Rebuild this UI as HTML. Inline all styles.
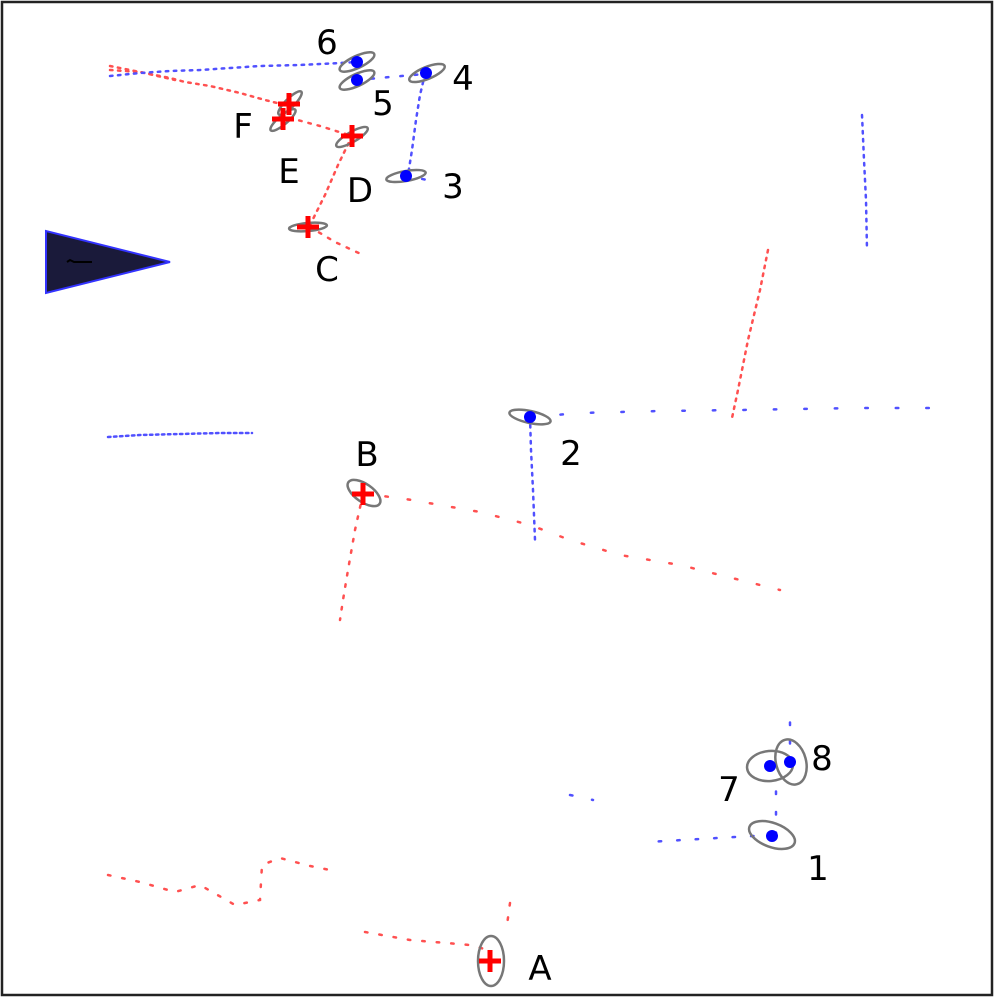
<!DOCTYPE html>
<html><head><meta charset="utf-8"><style>
html,body{margin:0;padding:0;background:#fff;width:995px;height:1000px;overflow:hidden}
svg{display:block}
text{font-family:"DejaVu Sans","Liberation Sans",sans-serif;font-size:34px;fill:#000;text-anchor:middle;dominant-baseline:central}
.r{fill:none;stroke:#ff5050;stroke-width:2.5;stroke-dasharray:2.5 12;stroke-linecap:round}
.b{fill:none;stroke:#5050ff;stroke-width:2.5;stroke-dasharray:2.5 12;stroke-linecap:round}
.bd{fill:none;stroke:#5050ff;stroke-width:2.5;stroke-dasharray:2.5 5.5;stroke-linecap:round}
.rd{fill:none;stroke:#ff5050;stroke-width:2.5;stroke-dasharray:2.5 5.5;stroke-linecap:round}
.e{fill:none;stroke:#777;stroke-width:2.5}
.dot{fill:#0000ff}
.cr{stroke:#ff0000;stroke-width:5}
</style></head><body>
<svg width="995" height="1000" viewBox="0 0 995 1000">
<rect x="2" y="2" width="990" height="993" fill="#fff" stroke="#222" stroke-width="2.5"/>
<polygon points="46,231 46,293 170,262" fill="#1a1a3a" stroke="#3333ff" stroke-width="2"/>
<path d="M67,262 l3,-2 l4,2 h18" stroke="#000" stroke-width="2" fill="none"/>

<polyline class="rd" points="110,66 130,70 150,74 170,78 185,82 210,86 240,93 265,100 285,105"/>
<polyline class="rd" points="110,70 140,72 175,80"/>
<polyline class="r" points="290,118 320,126 352,136" style="stroke-dasharray:2.5 7"/>
<polyline class="rd" points="352,136 338,165 325,195 310,225"/>
<polyline class="r" points="310,227 335,242 363,255" style="stroke-dasharray:2.5 8"/>
<polyline class="rd" points="768,250 760,290 748,340 738,390 732,418"/>
<polyline class="r" points="363,494 400,498 440,505 480,512 530,525 570,540 620,555 680,565 720,575 780,590" style="stroke-dasharray:2.5 20"/>
<polyline class="r" points="363,494 355,530 348,570 343,600 340,620" style="stroke-dasharray:2.5 9"/>
<polyline class="r" points="108,875 140,882 175,892 200,885 235,905 260,900 262,865 280,858 310,866 330,870"/>
<polyline class="r" points="365,932 410,940 470,945 488,950"/>
<polyline class="r" points="510,903 507,925"/>

<polyline class="bd" points="110,76 140,73 170,71 200,70 230,68 260,66 300,65 340,63 357,62"/>
<polyline class="b" points="357,80 390,77 425,74"/>
<polyline class="bd" points="425,74 420,95 416,120 412,150 408,175"/>
<polyline class="b" points="408,176 432,181"/>
<polyline class="bd" points="862,115 864,160 866,200 867,250"/>
<polyline class="b" points="530,417 580,413 660,411 740,410 800,409 860,408 935,408" style="stroke-dasharray:2.5 28"/>
<polyline class="bd" points="530,417 531,450 533,490 535,540"/>
<polyline class="bd" points="108,437 140,435 180,434 220,433 252,433" style="stroke-dasharray:2.5 3.5"/>
<polyline class="b" points="570,795 593,800" style="stroke-dasharray:2.5 20"/>
<polyline class="b" points="772,835 735,837 700,839 648,842" style="stroke-dasharray:2.5 16"/>
<polyline class="b" points="776,835 776,790 778,778" style="stroke-dasharray:2.5 18"/>
<polyline class="b" points="790,762 790,720" style="stroke-dasharray:2.5 16"/>

<ellipse class="e" cx="357" cy="62" rx="19" ry="6" transform="rotate(-25 357 62)"/>
<ellipse class="e" cx="357" cy="80" rx="19" ry="6" transform="rotate(-25 357 80)"/>
<ellipse class="e" cx="427" cy="73" rx="19" ry="6" transform="rotate(-22 427 73)"/>
<ellipse class="e" cx="406" cy="176" rx="20" ry="5" transform="rotate(-10 406 176)"/>
<ellipse class="e" cx="290" cy="103" rx="16" ry="4.5" transform="rotate(-45 290 103)"/>
<ellipse class="e" cx="283" cy="120" rx="16" ry="4.5" transform="rotate(-40 283 120)"/>
<ellipse class="e" cx="352" cy="137" rx="18" ry="5" transform="rotate(-30 352 137)"/>
<ellipse class="e" cx="308" cy="227" rx="19" ry="4" transform="rotate(-5 308 227)"/>
<ellipse class="e" cx="530" cy="417" rx="21" ry="6" transform="rotate(12 530 417)"/>
<ellipse class="e" cx="364" cy="493" rx="19" ry="9" transform="rotate(35 364 493)"/>
<ellipse class="e" cx="772" cy="835" rx="24" ry="12" transform="rotate(20 772 835)"/>
<ellipse class="e" cx="770" cy="766" rx="23" ry="15" transform="rotate(-5 770 766)"/>
<ellipse class="e" cx="791" cy="762" rx="15" ry="23" transform="rotate(-15 791 762)"/>
<ellipse class="e" cx="491" cy="961" rx="13" ry="25"/>

<circle class="dot" cx="357" cy="62" r="6"/>
<circle class="dot" cx="357" cy="80" r="6"/>
<circle class="dot" cx="426" cy="73" r="6"/>
<circle class="dot" cx="406" cy="176" r="6"/>
<circle class="dot" cx="530" cy="417" r="6"/>
<circle class="dot" cx="772" cy="836" r="6"/>
<circle class="dot" cx="770" cy="766" r="6"/>
<circle class="dot" cx="790" cy="762" r="6"/>

<g class="cr">
<path d="M278,104 h22 M289,93 v22"/>
<path d="M272,119 h22 M283,108 v22"/>
<path d="M341,136 h22 M352,125 v22"/>
<path d="M297,227 h22 M308,216 v22"/>
<path d="M352,494 h22 M363,483 v22"/>
<path d="M479,961 h22 M490,950 v22"/>
</g>

<text x="327" y="43">6</text>
<text x="463" y="79">4</text>
<text x="383" y="104">5</text>
<text x="243" y="127">F</text>
<text x="289" y="172">E</text>
<text x="360" y="191">D</text>
<text x="453" y="187">3</text>
<text x="327" y="270">C</text>
<text x="367" y="455">B</text>
<text x="571" y="454">2</text>
<text x="822" y="759">8</text>
<text x="729" y="790">7</text>
<text x="818" y="869">1</text>
<text x="540" y="969">A</text>
</svg>
</body></html>
